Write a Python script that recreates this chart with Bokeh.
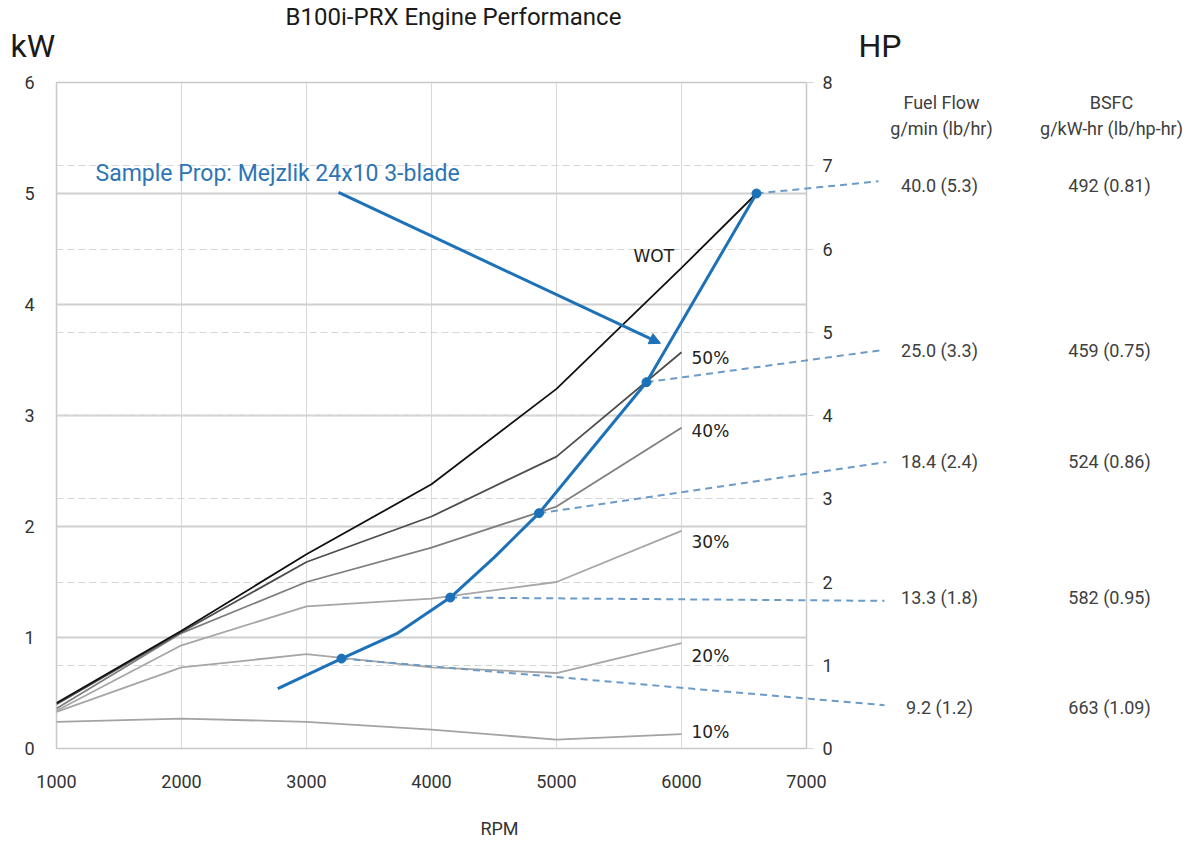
from bokeh.plotting import figure
from bokeh.models import (Range1d, LinearAxis, FixedTicker, Grid, Arrow, NormalHead,
                          ColumnDataSource)
from bokeh.core.properties import value
from bokeh.embed import file_html
from bokeh.resources import INLINE

# ---------------- data ----------------
rpm = [1000, 2000, 3000, 4000, 5000, 6000]
wot_rpm = [1000, 2000, 3000, 4000, 5000, 6000, 6600]
wot_kw = [0.41, 1.06, 1.75, 2.38, 3.24, 4.33, 5.00]
p50_kw = [0.40, 1.05, 1.68, 2.09, 2.63, 3.57]
p40_kw = [0.36, 1.04, 1.50, 1.81, 2.18, 2.89]
p30_kw = [0.34, 0.93, 1.28, 1.35, 1.50, 1.96]
p20_kw = [0.33, 0.73, 0.85, 0.73, 0.68, 0.95]
p10_kw = [0.24, 0.27, 0.24, 0.17, 0.08, 0.13]

prop_rpm = [2770, 3280, 3730, 4150, 4500, 4860, 5720, 6600]
prop_kw = [0.54, 0.81, 1.04, 1.36, 1.72, 2.12, 3.30, 5.00]

op_rpm = [6600, 5720, 4860, 4150, 3280]
op_kw = [5.00, 3.30, 2.12, 1.36, 0.81]
fuel_flow = ["40.0 (5.3)", "25.0 (3.3)", "18.4 (2.4)", "13.3 (1.8)", "9.2 (1.2)"]
bsfc = ["492 (0.81)", "459 (0.75)", "524 (0.86)", "582 (0.95)", "663 (1.09)"]

x_ticks = [1000, 2000, 3000, 4000, 5000, 6000, 7000]
kw_ticks = [0, 1, 2, 3, 4, 5, 6]
hp_ticks = [0, 1, 2, 3, 4, 5, 6, 7, 8]

# ---------------- layout constants ----------------
callout_end_rpm = [7576, 7608, 7640, 7624, 7624]
callout_end_kw = [5.11, 3.59, 2.58, 1.33, 0.39]
callout_text_kw = [5.07, 3.59, 2.59, 1.36, 0.37]
FF_X = 8064
BSFC_X = 9424

FONT = "Roboto"
TXT = "#404040"
BLUE = "#1c71b8"

p = figure(width=1195, height=839, output_backend="svg", toolbar_location=None,
           x_range=Range1d(1000, 7000), y_range=Range1d(0, 6),
           min_border_left=56, min_border_right=389, min_border_top=82,
           min_border_bottom=91, title=None)
p.extra_y_ranges = {"hp": Range1d(0, 8)}
p.outline_line_color = "#c8c8c8"
p.outline_line_width = 1.5
p.background_fill_color = "white"
p.border_fill_color = "white"

# grids
p.xgrid.ticker = FixedTicker(ticks=x_ticks)
p.xgrid.grid_line_color = "#d9d9d9"
p.xgrid.grid_line_width = 1
p.ygrid.ticker = FixedTicker(ticks=kw_ticks)
p.ygrid.grid_line_color = "#cfcfcf"
p.ygrid.grid_line_width = 2
hp_grid = Grid(dimension=1, y_range_name="hp", ticker=FixedTicker(ticks=hp_ticks),
               grid_line_color="#d6d6d6", grid_line_dash="7 4", grid_line_width=1)
p.add_layout(hp_grid)

# axes
for ax in (p.xaxis[0], p.yaxis[0]):
    ax.axis_line_color = None
    ax.major_tick_line_color = None
    ax.minor_tick_line_color = None
    ax.major_label_text_font = FONT
    ax.major_label_text_font_size = "18px"
    ax.major_label_text_color = "#333333"
p.xaxis.ticker = FixedTicker(ticks=x_ticks)
p.xaxis.major_label_standoff = 20
p.yaxis.ticker = FixedTicker(ticks=kw_ticks)
p.yaxis.major_label_standoff = 16

hp_axis = LinearAxis(y_range_name="hp", ticker=FixedTicker(ticks=hp_ticks),
                     axis_line_color=None, major_tick_line_color="#d6d6d6",
                     major_tick_out=7, major_tick_in=0, minor_tick_line_color=None,
                     major_label_text_font=FONT, major_label_text_font_size="18px",
                     major_label_text_color="#333333", major_label_standoff=9)
p.add_layout(hp_axis, "right")

# engine curves
series = [
    (p10_kw, "#a3a3a3"),
    (p20_kw, "#a6a6a6"),
    (p30_kw, "#a6a6a6"),
    (p40_kw, "#7f7f7f"),
    (p50_kw, "#4d4d4d"),
]
for vals, col in series:
    p.line(rpm, vals, line_color=col, line_width=1.8)
p.line(wot_rpm, wot_kw, line_color="#111111", line_width=1.8)

curve_names = ["WOT", "50%", "40%", "30%", "20%", "10%"]
name_x = [5616, 6080, 6080, 6080, 6080, 6080]
name_y = [4.44, 3.52, 2.86, 1.86, 0.83, 0.15]
p.text(x=name_x, y=name_y, text=curve_names, text_font=value("DejaVu Sans"),
       text_font_size=value("17px"), text_color="#222222",
       text_baseline="middle", text_align="left")

# dashed callouts to fuel flow / bsfc (overlay level: may extend past the frame)
p.segment(x0=op_rpm, y0=op_kw, x1=callout_end_rpm, y1=callout_end_kw,
          line_color="#6d9bc6", line_width=2, line_dash="7 5", level="overlay")

# prop curve
p.line(prop_rpm, prop_kw, line_color=BLUE, line_width=3)
p.scatter(op_rpm, op_kw, size=9, fill_color=BLUE, line_color=BLUE, level="overlay")

# sample prop annotation
p.text(x=[1312], y=[5.18], text=["Sample Prop: Mejzlik 24x10 3-blade"],
       text_font=value(FONT), text_font_size=value("23px"), text_color="#2e75b6",
       text_baseline="middle", text_align="left")
p.add_layout(Arrow(end=NormalHead(size=11, fill_color=BLUE, line_color=BLUE),
                   x_start=3256, y_start=5.01, x_end=5832, y_end=3.65,
                   line_color=BLUE, line_width=3))

# value labels
n = len(fuel_flow)
p.text(x=[FF_X] * n, y=callout_text_kw, text=fuel_flow, text_font=value(FONT),
       text_font_size=value("18px"), text_color=TXT, text_align="center",
       text_baseline="middle", level="overlay")
p.text(x=[BSFC_X] * n, y=callout_text_kw, text=bsfc, text_font=value(FONT),
       text_font_size=value("18px"), text_color=TXT, text_align="center",
       text_baseline="middle", level="overlay")

# headers and titles
def lab(x, y, text, size, color=TXT, align="center"):
    p.text(x=[x], y=[y], text=[text], text_font=value(FONT),
           text_font_size=value(size), text_color=color, text_align=align,
           text_baseline="middle", level="overlay")

lab(FF_X + 16, 5.82, "Fuel Flow", "18px")
lab(FF_X + 16, 5.59, "g/min (lb/hr)", "18px")
lab(BSFC_X + 16, 5.82, "BSFC", "18px")
lab(BSFC_X + 16, 5.59, "g/kW-hr (lb/hp-hr)", "18px")
lab(4176, 6.586, "B100i-PRX Engine Performance", "24px", color="#1a1a1a")
lab(632, 6.33, "kW", "32px", color="#1a1a1a", align="left")
lab(7416, 6.33, "HP", "32px", color="#1a1a1a", align="left")
lab(4544, -0.72, "RPM", "18px", color="#333333")

open("out.html", "w").write(file_html(p, INLINE))
